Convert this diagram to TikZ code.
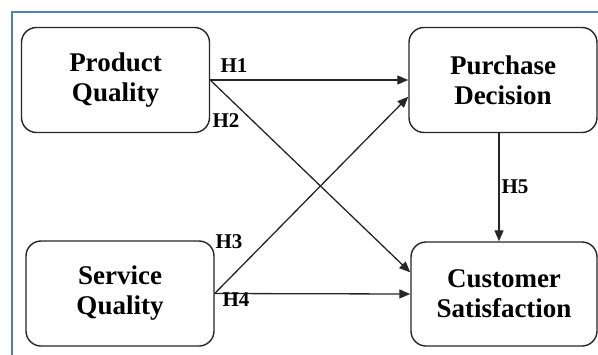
\documentclass[tikz,border=0pt]{standalone}
\usepackage{fontspec}
\newfontfamily\tnr{Liberation Serif}
\usetikzlibrary{arrows.meta}
\definecolor{framblue}{RGB}{79,129,189}
\begin{document}
\begin{tikzpicture}[x=1pt,y=-1pt,
  varbox/.style={draw=black!85,line width=1.4pt,rounded corners=15pt,minimum width=188pt,minimum height=105pt,align=center,font=\fontsize{27}{30}\selectfont\tnr\bfseries,inner sep=0pt},
  hyp/.style={line width=1.3pt,draw=black!85,-{Triangle[length=11pt,width=9pt]}},
  hlab/.style={font=\fontsize{21}{24}\selectfont\tnr\bfseries,inner sep=0pt}]
\useasboundingbox (0,0) rectangle (598,354);
\fill[white] (0,0) rectangle (598,354);
\draw[framblue,line width=2pt] (12,12) rectangle (620,380);
\node[varbox] (PQ) at (115.5,80) {Product\\Quality};
\node[varbox] (PD) at (503,80) {Purchase\\Decision};
\node[varbox] (SQ) at (120,293.5) {Service\\Quality};
\node[varbox,minimum width=186pt,minimum height=104pt] (CS) at (504,294) {Customer\\Satisfaction};
\draw[hyp] (PQ.east) -- (PD.west);
\draw[hyp] (PQ.east) -- (CS.167);
\draw[hyp] (SQ.east) -- (PD.190);
\draw[hyp] (SQ.east) -- (CS.west);
\draw[hyp] ([xshift=-4pt]PD.south) -- ([xshift=-5pt]CS.north);
\node[hlab] (L1) at (234,66) {H1};
\node[hlab] (L2) at (226,121) {H2};
\node[hlab] (L3) at (229,242) {H3};
\node[hlab] (L4) at (236,300) {H4};
\node[hlab] (L5) at (515,187) {H5};
\end{tikzpicture}
\end{document}
